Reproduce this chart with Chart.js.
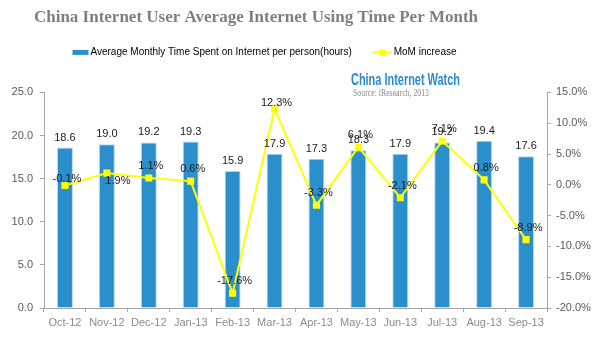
<!DOCTYPE html>
<html>
<head>
<meta charset="utf-8">
<script src="https://cdn.jsdelivr.net/npm/chart.js@4.4.0/dist/chart.umd.min.js"></script>
<style>
html, body { margin: 0; padding: 0; background: #fff; }
#wrap { width: 600px; height: 339px; }
</style>
</head>
<body>
<div id="wrap"><canvas id="chart"></canvas></div>
<script>
const months = ['Oct-12', 'Nov-12', 'Dec-12', 'Jan-13', 'Feb-13', 'Mar-13', 'Apr-13', 'May-13', 'Jun-13', 'Jul-13', 'Aug-13', 'Sep-13'];
const hours = [18.6, 19.0, 19.2, 19.3, 15.9, 17.9, 17.3, 18.3, 17.9, 19.2, 19.4, 17.6];
const momIncrease = [-0.1, 1.9, 1.1, 0.6, -17.6, 12.3, -3.3, 6.1, -2.1, 7.1, 0.8, -8.9];
const hoursRange = [0, 25];
const momRange = [-20, 15];

const barLabel = 'Average Monthly Time Spent on Internet per person(hours)';
const lineLabel = 'MoM increase';

const BLUE = '#2a8fcb';
const YELLOW = '#ffff00';
const AXIS = '#a6a6a6';
const SANS = "'Liberation Sans', Arial, sans-serif";

// title and legend sit left of centre in the original
const shiftHeader = {
    id: 'shiftHeader',
    afterLayout(chart) {
        chart.titleBlock.left -= 44;
        chart.titleBlock.right -= 44;
        chart.legend.left -= 40;
        chart.legend.right -= 40;
    }
};

const legendMarkers = {
    id: 'legendMarkers',
    afterDraw(chart) {
        const { ctx } = chart;
        const boxes = chart.legend.legendHitBoxes;
        if (!boxes || boxes.length < 2) return;
        ctx.save();
        const b0 = boxes[0];
        const cy0 = b0.top + b0.height / 2;
        ctx.fillStyle = BLUE;
        ctx.fillRect(b0.left + 9, cy0 - 2.5, 16, 5);
        const b1 = boxes[1];
        const cy1 = b1.top + b1.height / 2;
        ctx.strokeStyle = YELLOW;
        ctx.lineWidth = 2;
        ctx.beginPath();
        ctx.moveTo(b1.left + 6, cy1);
        ctx.lineTo(b1.left + 25, cy1);
        ctx.stroke();
        ctx.fillStyle = YELLOW;
        ctx.fillRect(b1.left + 12.5, cy1 - 3, 6, 6);
        ctx.restore();
    }
};

const valueLabels = {
    id: 'valueLabels',
    afterDatasetsDraw(chart) {
        const { ctx } = chart;
        ctx.save();
        ctx.font = '11px ' + SANS;
        ctx.fillStyle = '#1a1a1a';
        ctx.textAlign = 'center';
        ctx.textBaseline = 'middle';
        chart.getDatasetMeta(0).data.forEach((bar, i) => {
            ctx.fillText(hours[i].toFixed(1), bar.x, bar.y - 10);
        });
        chart.getDatasetMeta(1).data.forEach((pt, i) => {
            const text = momIncrease[i].toFixed(1) + '%';
            if (i === 1) {
                ctx.fillText(text, pt.x + 11, pt.y + 8);
            } else if (i === 0 || i === 5) {
                ctx.fillText(text, pt.x + 2, pt.y - 6);
            } else {
                ctx.fillText(text, pt.x + 2, pt.y - 12);
            }
        });
        ctx.restore();
    }
};

// condensed text squeezed to the width it has in the original
function fitText(ctx, text, x, y, width) {
    const w = ctx.measureText(text).width;
    ctx.save();
    ctx.translate(x, y);
    ctx.scale(width / w, 1);
    ctx.fillText(text, 0, 0);
    ctx.restore();
}

const watermark = {
    id: 'watermark',
    afterDraw(chart) {
        const { ctx } = chart;
        ctx.save();
        ctx.textAlign = 'left';
        ctx.textBaseline = 'middle';
        ctx.fillStyle = '#2a8ad0';
        ctx.font = "bold 16px 'Liberation Sans', sans-serif";
        fitText(ctx, 'China Internet Watch', 351, 81, 109);
        ctx.fillStyle = '#8c8c8c';
        ctx.font = "10px 'Liberation Serif', serif";
        fitText(ctx, 'Source: iResearch, 2013', 353, 93, 76);
        ctx.restore();
    }
};

new Chart(document.getElementById('chart'), {
    type: 'bar',
    data: {
        labels: months,
        datasets: [
            {
                type: 'bar',
                label: barLabel,
                data: hours,
                yAxisID: 'y',
                backgroundColor: BLUE,
                borderColor: '#b7d4ec',
                borderWidth: 1,
                barPercentage: 0.76,
                categoryPercentage: 0.5,
                order: 1,
            },
            {
                type: 'line',
                label: lineLabel,
                data: momIncrease,
                yAxisID: 'y1',
                borderColor: YELLOW,
                backgroundColor: YELLOW,
                borderWidth: 2,
                pointStyle: 'rect',
                pointRadius: 5,
                pointBorderWidth: 0,
                tension: 0,
                order: 0,
            },
        ],
    },
    options: {
        responsive: true,
        maintainAspectRatio: false,
        animation: false,
        layout: { padding: { left: 0, right: 0, top: 7, bottom: 0 } },
        scales: {
            x: {
                offset: true,
                grid: { offset: true, drawOnChartArea: false, tickLength: 4, color: AXIS },
                border: { color: AXIS },
                ticks: { color: '#8c8c8c', font: { family: SANS, size: 11 }, padding: 4, maxRotation: 0, autoSkip: false },
                afterFit: (scale) => { scale.height = 31; },
            },
            y: {
                position: 'left',
                min: hoursRange[0],
                max: hoursRange[1],
                grid: { drawOnChartArea: false, tickLength: 4, color: AXIS },
                border: { color: AXIS },
                ticks: {
                    stepSize: 5,
                    color: '#595959',
                    font: { family: SANS, size: 11 },
                    padding: 7,
                    callback: (v) => Number(v).toFixed(1),
                },
                afterFit: (scale) => { scale.width = 44; },
            },
            y1: {
                position: 'right',
                min: momRange[0],
                max: momRange[1],
                grid: { drawOnChartArea: false, tickLength: 4, color: AXIS },
                border: { color: AXIS },
                ticks: {
                    stepSize: 5,
                    color: '#595959',
                    font: { family: SANS, size: 11 },
                    padding: 5,
                    callback: (v) => Number(v).toFixed(1) + '%',
                },
                afterFit: (scale) => { scale.width = 53; },
            },
        },
        plugins: {
            title: {
                display: true,
                text: 'China Internet User Average Internet Using Time Per Month',
                color: '#7f7f7f',
                font: { family: "'Liberation Serif', serif", size: 17, weight: 'bold' },
                padding: { top: 0, bottom: 5 },
            },
            // empty block under the legend, keeps room for the watermark
            subtitle: {
                display: true,
                text: '',
                position: 'top',
                weight: 500,
                font: { size: 10 },
                padding: { top: 12, bottom: 1 },
            },
            legend: {
                display: true,
                labels: {
                    color: '#595959',
                    font: { family: SANS, size: 10 },
                    boxWidth: 22,
                    boxHeight: 5,
                    padding: 15,
                    sort: (a, b) => a.datasetIndex - b.datasetIndex,
                    generateLabels: (chart) => chart.data.datasets.map((ds, i) => ({
                        text: ds.label,
                        datasetIndex: i,
                        fillStyle: 'rgba(0,0,0,0)',
                        strokeStyle: 'rgba(0,0,0,0)',
                        lineWidth: 0,
                        hidden: false,
                    })),
                },
            },
            tooltip: { enabled: false },
        },
    },
    plugins: [shiftHeader, valueLabels, legendMarkers, watermark],
});
</script>
</body>
</html>
